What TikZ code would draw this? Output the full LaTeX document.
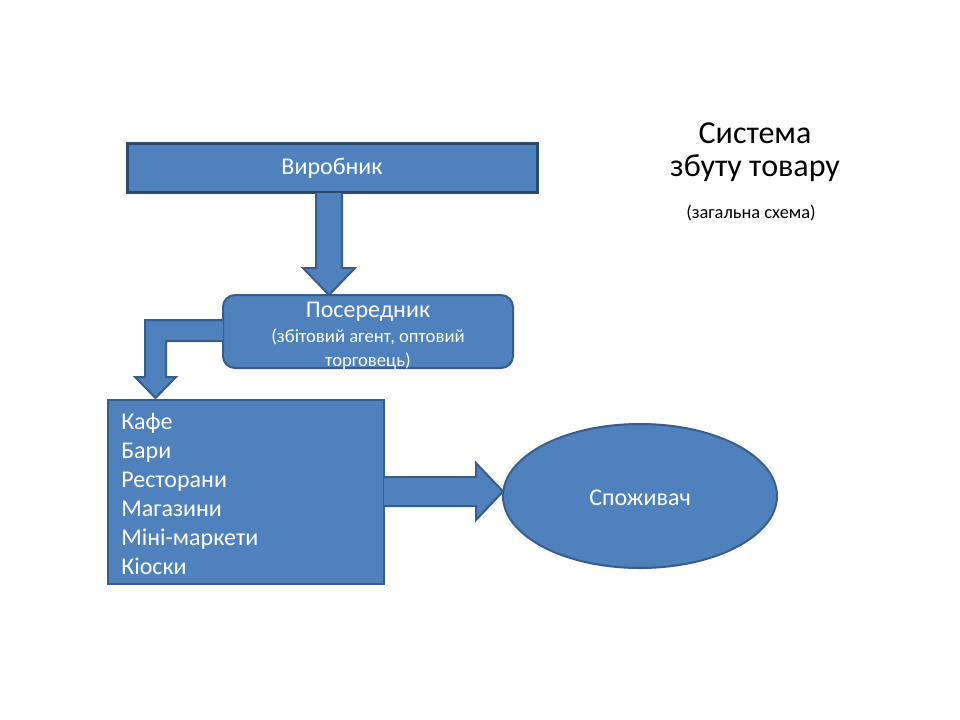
\documentclass[tikz,border=0pt]{standalone}
\usepackage{fontspec}
\setmainfont{Carlito}
\usetikzlibrary{shapes.geometric}
\definecolor{boxfill}{HTML}{4F81BD}
\definecolor{boxline}{HTML}{385D8A}
\definecolor{darkline}{HTML}{2C4A70}
\tikzset{
  blk/.style={fill=boxfill,draw=boxline,line width=1.5bp,line join=miter},
  boxtxt/.style={text=white,font=\fontsize{18bp}{22bp}\selectfont},
}
\begin{document}
\begin{tikzpicture}[x=0.75bp,y=-0.75bp]
\useasboundingbox[fill=white] (0,0) rectangle (960,720);
% boxes
\node[blk,draw=darkline,line width=2.25bp,rectangle,minimum width=410*0.75bp,minimum height=49*0.75bp,inner sep=0] (vyr) at (332,168) {};
\node[blk,rectangle,rounded corners=9bp,minimum width=290*0.75bp,minimum height=73*0.75bp,inner sep=0] (pos) at (368,331.5) {};
\node[blk,line width=1.9bp,rectangle,minimum width=276*0.75bp,minimum height=184*0.75bp,inner sep=0] (list) at (246,492) {};
\node[blk,ellipse,minimum width=274*0.75bp,minimum height=144*0.75bp,inner sep=0] (spo) at (640,496) {};
% block arrows
\draw[blk] (316,193) -- (316,268) -- (303,268) -- (329,295) -- (355,268) -- (342,268) -- (342,193);
\draw[blk] (223,320) -- (145,320) -- (145,377) -- (135,377) -- (155.5,398) -- (176,377) -- (166,377) -- (166,341) -- (223,341);
\draw[blk] (384,477) -- (476,477) -- (476,463) -- (503,491.5) -- (476,520) -- (476,506) -- (384,506);
% texts
\node[boxtxt] (tvyr) at (vyr) {Виробник};
\node[boxtxt] (tpos) at (368,312) {Посередник};
\node[text=white,font=\fontsize{14bp}{17bp}\selectfont,align=center] (tpos2) at (368,349.5) {(збітовий агент, оптовий\\[1bp]торговець)};
\node[boxtxt,align=left,anchor=west,inner sep=0] (tlist) at (121,493.5) {Кафе\\[-0.25bp]Бари\\[-0.25bp]Ресторани\\[-0.25bp]Магазини\\[-0.25bp]Міні-маркети\\[-0.25bp]Кіоски};
\node[boxtxt] (tspo) at (640,498) {Споживач};
\node[font=\fontsize{24bp}{28bp}\selectfont] (t1) at (755,133) {Система};
\node[font=\fontsize{24bp}{28bp}\selectfont] (t2) at (755,168) {збуту товару};
\node[font=\fontsize{13.8bp}{17bp}\selectfont] (t3) at (751,213) {(загальна схема)};
\end{tikzpicture}
\end{document}
